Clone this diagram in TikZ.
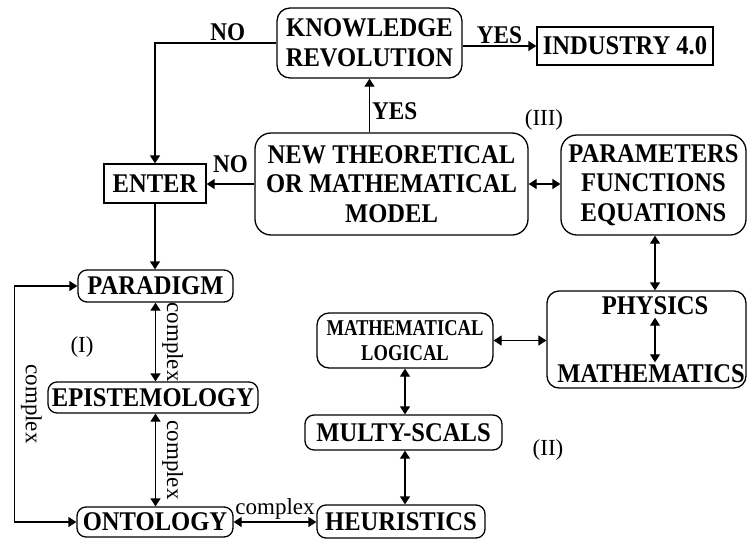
\documentclass[tikz,border=0pt]{standalone}
\usepackage{fontspec}
\setmainfont{Liberation Serif}
\newfontfamily\boxfont{Liberation Serif Bold}[FakeStretch=0.91]
\newfontfamily\smallboxfont{Liberation Serif Bold}[FakeStretch=0.82]
\usetikzlibrary{arrows.meta,positioning}

\begin{document}
\begin{tikzpicture}[x=1pt, y=-1pt, line width=1.3pt, >={Triangle[length=8pt,width=10pt]},
  box/.style={draw, inner sep=0pt, align=center, font=\boxfont\fontsize{27}{29.5}\selectfont},
  rbox/.style={box, rounded corners=9pt},
  txt/.style={inner sep=2pt, font=\boxfont\fontsize{27}{29.5}\selectfont},
  lab/.style={inner sep=2pt, font=\boxfont\fontsize{25.5}{27}\selectfont},
  cpx/.style={inner sep=2pt, font=\fontsize{23}{27}\selectfont}]

  \useasboundingbox (0,0) rectangle (747,541);

  % Top row
  \node[rbox, rounded corners=13pt, minimum width=185, minimum height=70] (kr) at (369.5,43) {KNOWLEDGE\\REVOLUTION};
  \node[box, minimum width=176, minimum height=38] (ind) at (625,46) {INDUSTRY 4.0};

  % Model row
  \node[box, minimum width=102, minimum height=39] (enter) at (155,183.5) {ENTER};
  \node[rbox, rounded corners=16pt, minimum width=273, minimum height=102] (new) at (391.5,184) {NEW THEORETICAL\\OR MATHEMATICAL\\MODEL};
  \node[rbox, rounded corners=16pt, minimum width=185, minimum height=100] (pfe) at (653.5,185) {PARAMETERS\\FUNCTIONS\\EQUATIONS};

  % (I) column
  \node[rbox, minimum width=155, minimum height=32] (para) at (155.5,286) {PARADIGM};
  \node[rbox, minimum width=210, minimum height=31] (epi) at (153,397.5) {EPISTEMOLOGY};
  \node[rbox, minimum width=156, minimum height=30] (onto) at (155,522) {ONTOLOGY};

  % (II) column
  \node[rbox, rounded corners=12pt, minimum width=176, minimum height=55, font=\smallboxfont\fontsize{22.6}{25}\selectfont] (ml) at (405,340.5) {MATHEMATICAL\\LOGICAL};
  \node[rbox, minimum width=197, minimum height=35] (ms) at (403.5,432.5) {MULTY-SCALS};
  \node[rbox, minimum width=168, minimum height=33] (heur) at (401,521.5) {HEURISTICS};

  % Physics / mathematics block
  \node[rbox, rounded corners=12pt, minimum width=199, minimum height=97] (pm) at (646.5,339.5) {};
  \node[txt] (phys) at (655,306) {PHYSICS};
  \node[txt] (math) at (651,374) {MATHEMATICS};

  % Region marks
  \node[cpx] (r1) at (82,347) {(I)};
  \node[cpx] (r2) at (548,450) {(II)};
  \node[cpx] (r3) at (544,120) {(III)};

  % YES / NO branches
  \draw[->] (kr.east |- ind.west) -- node[lab, midway, above] {YES} (ind.west);
  \draw[->] (kr.west) -| node[lab, pos=0.2, above] {NO} (enter.north);
  \draw[->] (new.north -| kr.south) -- node[lab, pos=0.4, right] {YES} (kr.south);
  \draw[->] (new.west) -- node[lab, midway, above=9pt] {NO} (new.west -| enter.east);
  \draw[->] (enter.south) -- (enter.south |- para.north);
  \draw[<->] (new.east) -- (new.east -| pfe.west);
  \draw[<->] (pfe.south -| phys) -- (pm.north -| phys);
  \draw[<->] (phys.south) -- (phys.south |- math.north);

  % complex links
  \draw[<->] (para.south) -- node[cpx, midway, rotate=-90, anchor=south, inner sep=6pt] {complex} (para.south |- epi.north);
  \draw[<->] (para.south |- epi.south) -- node[cpx, midway, rotate=-90, anchor=south, inner sep=6pt] {complex} (para.south |- onto.north);
  \draw[<->] (onto.west) -- ++(-62,0) |- node[cpx, pos=0.25, rotate=-90, anchor=south, inner sep=6pt] {complex} (para.west);
  \draw[<->] (onto.east) -- node[cpx, midway, above] {complex} (onto.east -| heur.west);

  % right side links
  \draw[<->] (ml.east) -- (ml.east -| pm.west);
  \draw[<->] (ml.south) -- (ml.south |- ms.north);
  \draw[<->] (ms.south -| ml.south) -- (heur.north -| ml.south);
\end{tikzpicture}
\end{document}
